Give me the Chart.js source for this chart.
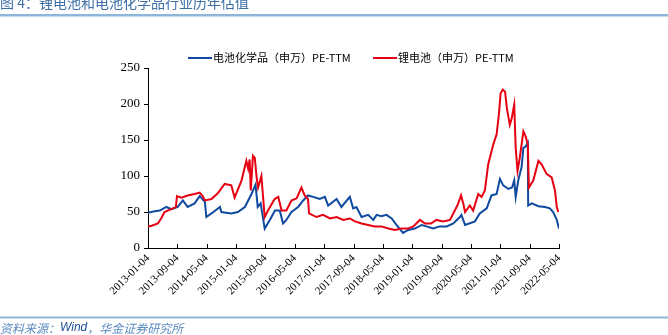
<!DOCTYPE html>
<html>
<head>
<meta charset="utf-8">
<script src="https://cdn.jsdelivr.net/npm/chart.js@4/dist/chart.umd.min.js"></script>
<style>
  html, body { margin: 0; padding: 0; background: #fff; }
  #wrap { position: relative; width: 668px; height: 335px; }
</style>
</head>
<body>
<div id="wrap"><canvas id="c" width="668" height="335"></canvas></div>
<script>
// Month index since 2013-01-04 (x), and PE-TTM values
const tickLabels = ["2013-01-04","2013-09-04","2014-05-04","2015-01-04","2015-09-04","2016-05-04","2017-01-04","2017-09-04","2018-05-04","2019-01-04","2019-09-04","2020-05-04","2021-01-04","2021-09-04","2022-05-04"];

const seriesNames = ["电池化学品（申万）PE-TTM", "锂电池（申万）PE-TTM"];

const blueMonths = [0,1.8,3.2,5.0,6.4,8.1,9.5,10.8,12.7,14.1,15.5,15.9,17.3,19.6,20.0,22.7,24.5,26.4,28.2,29.3,29.9,30.7,31.8,33.2,34.6,35.9,36.8,37.7,39.1,40.9,42.3,43.6,45.0,46.8,48.2,49.1,51.4,52.7,55.0,55.9,56.8,58.2,60.0,61.4,62.3,63.6,65.0,66.4,67.7,69.5,70.9,72.7,74.6,75.9,77.7,79.5,81.4,83.2,85.0,85.4,86.4,89.1,90.4,92.3,93.6,95.0,95.9,96.8,98.2,99.2,99.8,100.2,100.9,101.8,102.3,102.9,103.5,103.6,104.6,106.4,108.2,109.5,110.4,111.4,112];
const blueValues = [49,51,52,57,54,57,66,57,62,72,64,43,48,57,50,48,50,57,75,88,57,62,27,39,52,52,34,39,50,57,66,73,71,68,71,59,68,57,71,55,57,43,46,39,46,44,46,41,32,21,25,27,32,30,27,30,30,34,43,46,32,37,48,55,73,75,96,87,82,84,94,71,94,112,139,141,146,59,62,58,57,55,50,39,27];

const redMonths = [0,1,2.7,3.7,4.5,6.8,7.6,7.9,9.1,10.8,12.7,14.1,14.9,15.5,17.3,19.0,20.9,22.7,23.6,25.5,26.8,27.3,27.7,28.0,28.6,29.1,29.6,30.0,30.9,31.8,32.7,34.5,35.5,36.4,37.7,39.1,40.5,41.8,42.7,43.6,43.9,45.9,47.7,49.6,51.4,53.2,55.0,56.4,58.2,60.0,61.8,63.6,65.5,67.3,69.1,70.8,72.3,74.1,75.5,77.1,78.6,80.4,82.3,83.6,84.4,85.3,85.9,86.4,87.7,88.6,90.0,90.9,91.8,92.7,94.1,95.0,95.6,96.1,96.7,97.3,97.8,98.6,99.1,99.8,100.2,100.7,101.3,102.3,102.9,103.5,103.8,105.0,106.4,107.3,108.6,110.0,110.9,111.4,111.8];
const redValues = [30,31,34,42,50,55,57,72,70,73,75,77,72,66,68,76,89,87,70,94,121,110,123,80,128,125,98,84,100,43,52,68,71,52,52,66,69,84,73,68,48,43,46,41,43,39,41,37,34,32,30,30,27,25,27,27,30,39,34,34,39,37,39,52,60,73,62,50,59,52,75,71,80,116,144,158,185,215,220,217,194,171,180,199,139,107,125,162,155,144,84,94,121,116,103,98,80,57,50];

const yTicks = [0,50,100,150,200,250];

const BLUE = '#0F4AA0';
const RED = '#E60012';

function toXY(xs, ys) { return xs.map((x, i) => ({ x: x, y: ys[i] })); }

const decor = {
  id: 'decor',
  afterDraw(chart) {
    const ctx = chart.ctx;
    ctx.save();
    // title
    ctx.fillStyle = '#3D6FA6';
    ctx.font = '14px "Noto Sans CJK SC"';
    ctx.textBaseline = 'middle';
    ctx.textAlign = 'left';
    ctx.fillText('图 4：锂电池和电池化学品行业历年估值', 0, 3);
    // header rule
    ctx.fillStyle = '#8DB6DA';
    ctx.fillRect(0, 14, 668, 2.5);
    // footer rule
    ctx.fillRect(0, 316.5, 668, 2);
    // footer text
    ctx.font = 'italic 12px "Noto Sans CJK SC"';
    let fx = 0;
    const parts = [['资料来源：', '#5B8BC0'], ['Wind', '#1E4E96'], ['，华金证券研究所', '#5B8BC0']];
    parts.forEach(p => {
      ctx.fillStyle = p[1];
      if (p[0] === 'Wind') ctx.font = 'italic 12px "Liberation Sans"';
      else ctx.font = 'italic 12px "Noto Sans CJK SC"';
      ctx.fillText(p[0], fx, 328);
      fx += ctx.measureText(p[0]).width;
    });
    // legend
    ctx.font = '11px "Noto Sans CJK SC"';
    ctx.textBaseline = 'middle';
    const ly = 58;
    const items = [[188, BLUE, seriesNames[0]], [373, RED, seriesNames[1]]];
    items.forEach(it => {
      ctx.strokeStyle = it[1];
      ctx.lineWidth = 2;
      ctx.beginPath();
      ctx.moveTo(it[0], ly);
      ctx.lineTo(it[0] + 24, ly);
      ctx.stroke();
      ctx.fillStyle = '#000';
      ctx.fillText(it[2], it[0] + 25, ly);
    });
    // x tick marks pointing up
    const xs = chart.scales.x;
    const ys = chart.scales.y;
    ctx.strokeStyle = '#000';
    ctx.lineWidth = 1;
    xs.ticks.forEach(t => {
      const px = Math.round(xs.getPixelForValue(t.value)) + 0.5;
      ctx.beginPath();
      ctx.moveTo(px, ys.bottom);
      ctx.lineTo(px, ys.bottom - 4);
      ctx.stroke();
    });
    ctx.restore();
  }
};

new Chart(document.getElementById('c'), {
  type: 'line',
  data: {
    datasets: [
      { label: seriesNames[0], data: toXY(blueMonths, blueValues), borderColor: BLUE, backgroundColor: BLUE, borderWidth: 2, pointRadius: 0, tension: 0, order: 2 },
      { label: seriesNames[1], data: toXY(redMonths, redValues), borderColor: RED, backgroundColor: RED, borderWidth: 2, pointRadius: 0, tension: 0, order: 1 }
    ]
  },
  options: {
    responsive: false,
    animation: false,
    devicePixelRatio: 1,
    layout: { padding: { top: 68, right: 109, left: 0, bottom: 0 } },
    plugins: { legend: { display: false }, tooltip: { enabled: false }, title: { display: false } },
    scales: {
      x: {
        type: 'linear',
        min: 0, max: 112,
        afterFit(s) { s.height = 87; },
        afterBuildTicks(s) { s.ticks = tickLabels.map((_, i) => ({ value: i * 8 })); },
        grid: { display: false, drawTicks: false },
        border: { display: true, color: '#000', width: 1 },
        ticks: {
          autoSkip: false, maxRotation: 45, minRotation: 45, padding: 4,
          color: '#000', font: { family: '"Liberation Serif"', size: 11 },
          callback: (v) => tickLabels[Math.round(v / 8)]
        }
      },
      y: {
        min: 0, max: 250,
        afterFit(s) { s.width = 148; },
        afterBuildTicks(s) { s.ticks = yTicks.map(v => ({ value: v })); },
        grid: { display: true, drawOnChartArea: false, drawTicks: true, tickLength: 4, color: '#000' },
        border: { display: true, color: '#000', width: 1 },
        ticks: { padding: 4, color: '#000', font: { family: '"Liberation Serif"', size: 13 } }
      }
    }
  },
  plugins: [decor]
});
</script>
</body>
</html>
